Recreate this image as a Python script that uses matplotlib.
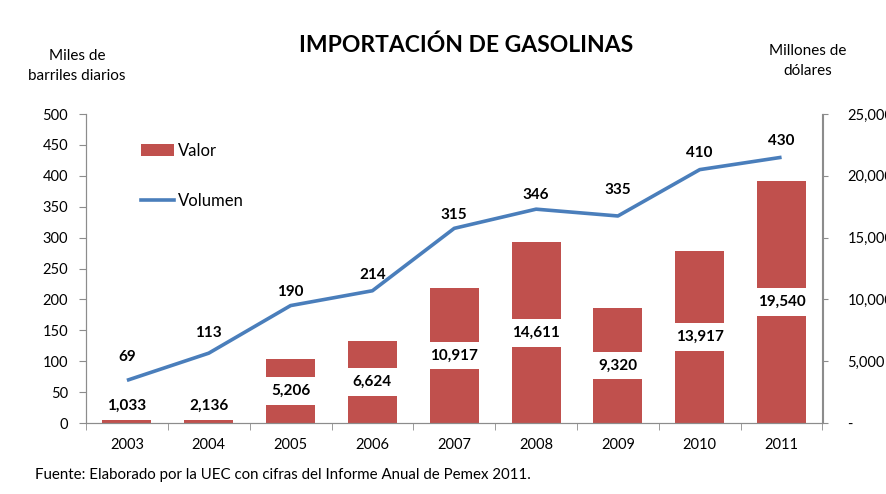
import matplotlib
matplotlib.use("Agg")
import matplotlib.pyplot as plt
from matplotlib.patches import Patch
from matplotlib.lines import Line2D

plt.rcParams["font.family"] = ["Lato", "DejaVu Sans"]

BAR_COLOR = "#C0504D"
LINE_COLOR = "#4A7EBB"
AXIS_COLOR = "#8C8C8C"

# ---------- Data ----------
years = ["2003", "2004", "2005", "2006", "2007", "2008", "2009", "2010", "2011"]
valor = [1033, 2136, 5206, 6624, 10917, 14611, 9320, 13917, 19540]      # millones de dolares
volumen = [69, 113, 190, 214, 315, 346, 335, 410, 430]                   # miles de barriles diarios
left_ticks = [0, 50, 100, 150, 200, 250, 300, 350, 400, 450, 500]
right_ticks = [0, 5000, 10000, 15000, 20000, 25000]

# label centre offsets above the line points (points)
vol_label_offset = [17, 14.5, 9.5, 11.5, 9.5, 10, 18.5, 12, 12]

# ---------- Plot ----------
fig = plt.figure(figsize=(8.86, 4.94), dpi=100)
ax = fig.add_axes([86 / 886, 71 / 494, 736.5 / 886, 309 / 494])
ax2 = ax.twinx()

x = list(range(len(years)))

# bars on the right axis (valor)
ax2.bar(x, valor, width=0.6, color=BAR_COLOR, zorder=1)
ax2.set_ylim(0, 25000)
ax2.set_yticks(right_ticks)
ax2.set_yticklabels(["-" if t == 0 else f"{t:,}" for t in right_ticks])

for xi, v in zip(x, valor):
    ypos = max(v / 2.0, 1400)
    ax2.text(xi, ypos, f"{v:,}", ha="center", va="center", fontsize=11,
             fontweight="bold", color="black", zorder=3,
             bbox=dict(boxstyle="square,pad=0.45", facecolor="white",
                       edgecolor="none"))

# line on the left axis (volumen), drawn above the bars
ax.set_zorder(ax2.get_zorder() + 1)
ax.patch.set_visible(False)
ax.plot(x, volumen, color=LINE_COLOR, linewidth=2.6, solid_capstyle="butt")
ax.set_ylim(0, 500)
ax.set_yticks(left_ticks)
ax.set_xlim(-0.5, len(years) - 0.5)

for xi, v, off in zip(x, volumen, vol_label_offset):
    ax.annotate(f"{v}", (xi, v), xytext=(0, off), textcoords="offset points",
                ha="center", va="center", fontsize=11, fontweight="bold")

# x ticks: category labels, tick marks between categories
ax.set_xticks(x)
ax.set_xticklabels(years)
ax.set_xticks([i - 0.5 for i in range(len(years) + 1)], minor=True)
ax.tick_params(axis="x", which="major", length=0, pad=11, labelsize=10.5)
ax.tick_params(axis="x", which="minor", length=5, color=AXIS_COLOR)
ax.tick_params(axis="y", length=5, color=AXIS_COLOR, labelsize=10.5, pad=8)
ax2.tick_params(axis="y", length=4, color=AXIS_COLOR, labelsize=10.5, pad=14)

for a in (ax, ax2):
    a.spines["top"].set_visible(False)
    for s in ("left", "right", "bottom"):
        a.spines[s].set_color(AXIS_COLOR)

# legend
handles = [Patch(facecolor=BAR_COLOR, edgecolor="none"),
           Line2D([0], [0], color=LINE_COLOR, linewidth=2.6)]
fig.legend(handles, ["Valor", "Volumen"], loc="upper left",
           bbox_to_anchor=(141 / 886, 1 - 143 / 494), frameon=False,
           fontsize=12, handlelength=2.0, handletextpad=0.2,
           labelspacing=2.05, borderpad=0, borderaxespad=0)

# titles and axis captions
fig.text(466 / 886, 1 - 45 / 494, "IMPORTACIÓN DE GASOLINAS", ha="center",
         va="center", fontsize=16.5, fontweight="bold")
fig.text(77 / 886, 1 - 66 / 494, "Miles de\nbarriles diarios", ha="center",
         va="center", fontsize=11, linespacing=1.55)
fig.text(808 / 886, 1 - 61 / 494, "Millones de\ndólares", ha="center",
         va="center", fontsize=11, linespacing=1.55)
fig.text(35 / 886, 1 - 475 / 494,
         "Fuente: Elaborado por la UEC con cifras del Informe Anual de Pemex 2011.",
         ha="left", va="center", fontsize=10.8)

fig.savefig("out.png", dpi=100, facecolor="white")
